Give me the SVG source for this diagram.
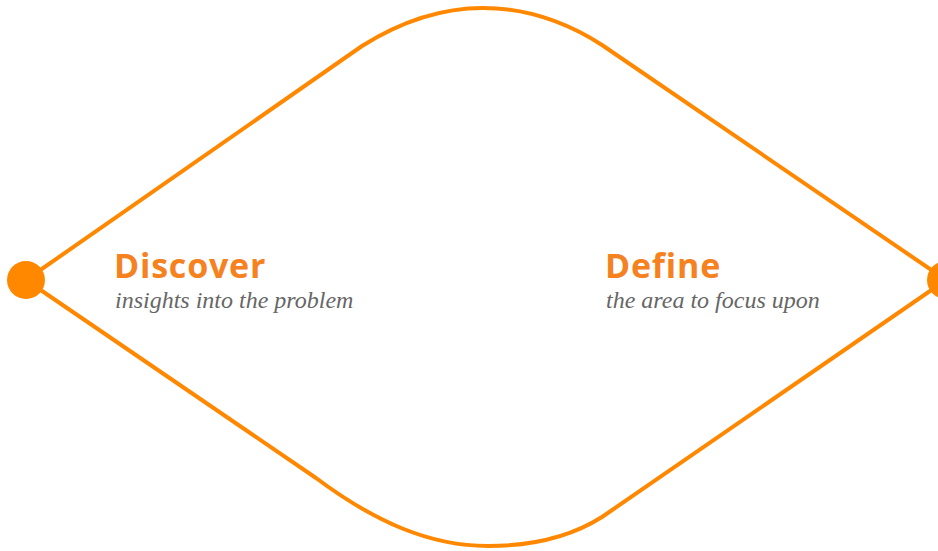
<svg xmlns="http://www.w3.org/2000/svg" width="938" height="551" viewBox="0 0 938 551">
<style>
.line{fill:none;stroke:#FF8800;stroke-width:4;stroke-linejoin:round}
.dot{fill:#FF8800}
.title{font-family:"Open Sans","Noto Sans",sans-serif;font-weight:700;font-size:34px;letter-spacing:0.8px;fill:#F5821F}
.sub{font-family:"Liberation Serif",serif;font-style:italic;font-size:24px;fill:#666666}
</style>
<rect width="938" height="551" fill="#ffffff"/>
<g id="connectors">
<path class="line" d="M26,280 L362,46 C405,19 445,8 483,8 C522,8 560,18 602,45 L946,280"/>
<path class="line" d="M26,280 L316,478 C375,522 430,546 488,546 C535,546 572,536 602,517 L946,280"/>
</g>
<g id="start"><circle class="dot" cx="26" cy="280" r="19"/></g>
<g id="end"><circle class="dot" cx="946" cy="280" r="19"/></g>
<g id="discover">
<text class="title" x="114" y="278">Discover</text>
<text class="sub" x="115" y="308">insights into the problem</text>
</g>
<g id="define">
<text class="title" x="605" y="278">Define</text>
<text class="sub" x="606" y="308">the area to focus upon</text>
</g>
</svg>
